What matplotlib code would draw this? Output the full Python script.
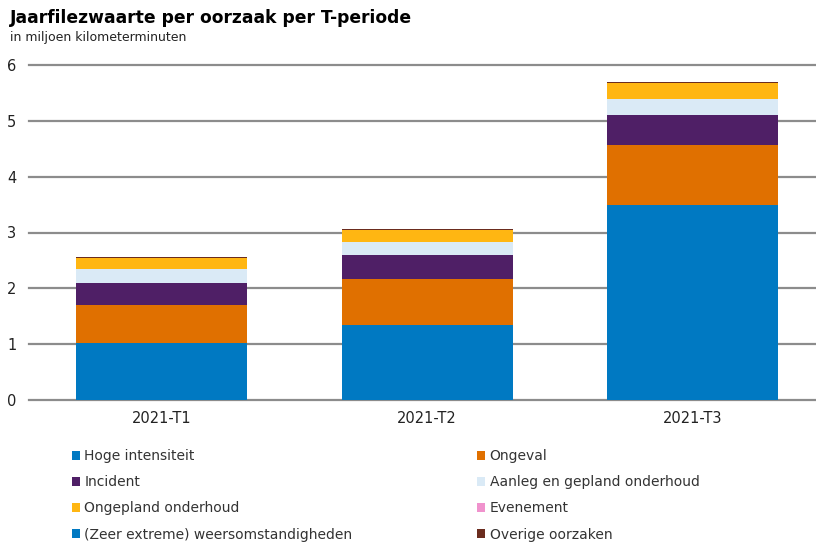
import matplotlib
matplotlib.use("Agg")
import matplotlib.pyplot as plt
import numpy as np

periods = ["2021-T1", "2021-T2", "2021-T3"]
series_names = ["Hoge intensiteit", "Ongeval", "Incident", "Aanleg en gepland onderhoud",
                "Ongepland onderhoud", "Evenement", "(Zeer extreme) weersomstandigheden",
                "Overige oorzaken"]
hoge_intensiteit = [1.02, 1.34, 3.49]
ongeval = [0.69, 0.82, 1.08]
incident = [0.38, 0.43, 0.54]
aanleg = [0.26, 0.24, 0.29]
ongepland = [0.19, 0.22, 0.27]
evenement = [0.0, 0.0, 0.0]
weer = [0.0, 0.0, 0.0]
overige = [0.015, 0.018, 0.018]
yticks = [0, 1, 2, 3, 4, 5, 6]

colors = ["#0079C2", "#E07000", "#4F1F66", "#DAEAF6", "#FFB612", "#F092CD", "#0079C2", "#6B2C1E"]
series = [hoge_intensiteit, ongeval, incident, aanleg, ongepland, evenement, weer, overige]

plt.rcParams['font.family'] = ['DejaVu Sans']
fig = plt.figure(figsize=(8.16, 5.42), dpi=100)
ax = fig.add_axes([29/816, 1 - 400/542, (816 - 29)/816, (400 - 65)/542])

x = np.arange(len(periods))
bottom = np.zeros(len(periods))
handles = []
for name, vals, c in zip(series_names, series, colors):
    b = ax.bar(x, vals, width=0.644, bottom=bottom, color=c, label=name, zorder=3, linewidth=0)
    handles.append(b)
    bottom += np.array(vals)

ax.set_ylim(0, 6)
ax.set_xlim(-0.499, 2.465)
ax.set_yticks(yticks)
ax.set_xticks(x)
ax.set_xticklabels(periods)
ax.grid(axis='y', color='#8c8c8c', linewidth=1.6, zorder=0)
for gl in ax.get_ygridlines():
    gl.set_clip_on(False)
for s in ax.spines.values():
    s.set_visible(False)
ax.tick_params(axis='both', length=0, labelsize=10.5, colors='#222222')
ax.tick_params(axis='y', pad=9)
ax.tick_params(axis='x', pad=8)

fig.text(10/816, 1 - 18/542, "Jaarfilezwaarte per oorzaak per T-periode", fontsize=12.3,
         fontweight='bold', va='center', ha='left', color='black')
fig.text(10/816, 1 - 38/542, "in miljoen kilometerminuten", fontsize=9, va='center', ha='left',
         color='#222222')

col1 = [handles[i] for i in (0, 2, 4, 6)]
col2 = [handles[i] for i in (1, 3, 5, 7)]
for hs, xpos in ((col1, 72/816), (col2, 477/816)):
    leg = fig.legend(hs, [h.get_label() for h in hs], loc='upper left',
                     bbox_to_anchor=(xpos, 1 - 449/542), frameon=False, fontsize=10,
                     handlelength=0.6, handleheight=0.6, handletextpad=0.3,
                     labelspacing=0.88, borderpad=0, borderaxespad=0)
    for t in leg.get_texts():
        t.set_color('#333333')

fig.savefig("out.png", dpi=100)
